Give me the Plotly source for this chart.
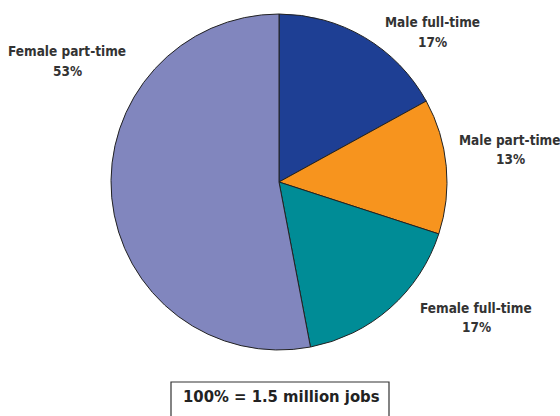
import plotly.graph_objects as go

labels = ["Male full-time", "Male part-time", "Female full-time", "Female part-time"]
values = [17, 13, 17, 53]
colors = ["#1E3F94", "#F7941E", "#008C96", "#8186BE"]
note = "100% = 1.5 million jobs"

W, H = 560, 416
cx, cy, r = 279, 182, 168

fig = go.Figure(go.Pie(
    labels=labels, values=values, sort=False, direction="clockwise", rotation=0,
    marker=dict(colors=colors, line=dict(color="#222222", width=1)),
    textinfo="none", hoverinfo="label+percent", showlegend=False,
    domain=dict(x=[(cx - r) / W, (cx + r) / W], y=[1 - (cy + r) / H, 1 - (cy - r) / H]),
))

font_fam = "DejaVu Sans Condensed, Liberation Sans Narrow, Arial Narrow, sans-serif"
lab_font = dict(family=font_fam, size=13.5, color="#333333")
# label centre positions (pixels)
label_pos = [(432, 32), (510, 149), (476, 317), (67, 61)]
for lab, val, (px, py) in zip(labels, values, label_pos):
    for txt, dy in ((lab, -9.5), (f"{val}%", 9.5)):
        fig.add_annotation(
            x=px / W, y=1 - (py + dy) / H, xref="paper", yref="paper",
            text=f"<b>{txt}</b>", showarrow=False, font=lab_font,
            xanchor="center", yanchor="middle", align="center",
        )

fig.add_shape(type="rect", xref="paper", yref="paper",
              x0=171 / W, x1=389 / W, y0=-0.02, y1=1 - 382 / H,
              line=dict(color="#333333", width=1.2), fillcolor="white")
fig.add_annotation(
    x=281 / W, y=1 - 396 / H, xref="paper", yref="paper",
    text=f"<b>{note}</b>", showarrow=False,
    font=dict(family=font_fam, size=16.5, color="#222222"),
    xanchor="center", yanchor="middle",
)

fig.update_layout(
    width=W, height=H, margin=dict(l=0, r=0, t=0, b=0),
    paper_bgcolor="white", plot_bgcolor="white",
)
fig.write_html("out.html", config={"displayModeBar": False},
               post_script="document.body.style.margin='0';")
